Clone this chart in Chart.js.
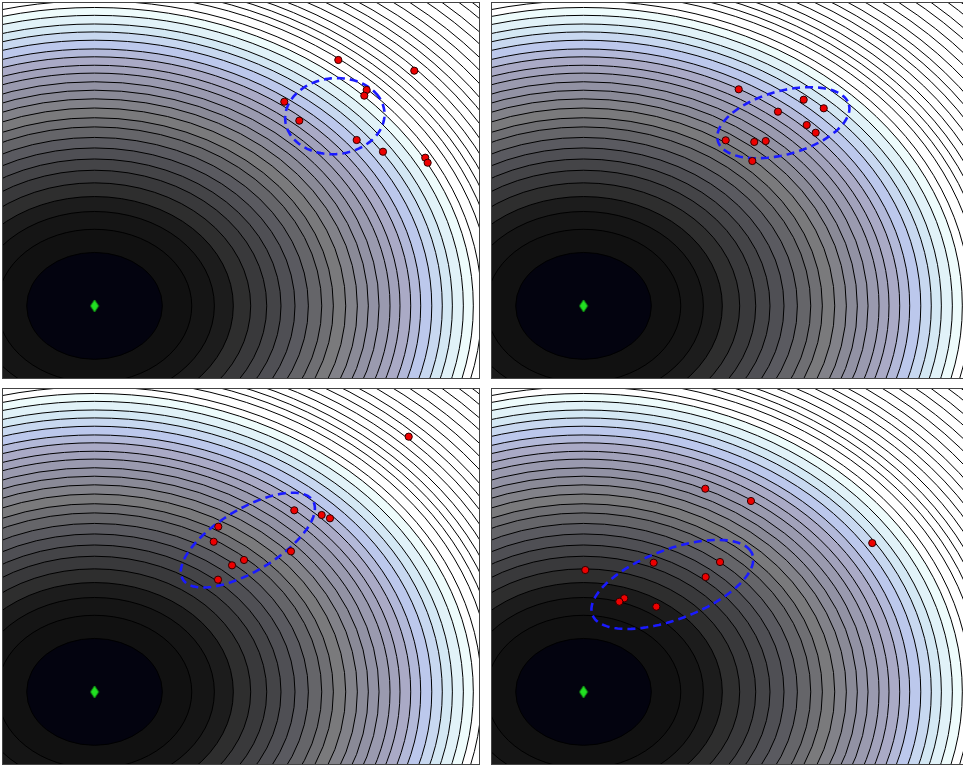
<!DOCTYPE html>
<html>
<head>
<meta charset="utf-8">
<script src="https://cdn.jsdelivr.net/npm/chart.js@4.4.1/dist/chart.umd.min.js"></script>
<style>
  html, body { margin: 0; padding: 0; background: #fff; width: 963px; height: 765px; overflow: hidden; }
  .panel { position: absolute; border: 1px solid #444; width: 476px; height: 375px; }
  .panel canvas { display: block; }
</style>
</head>
<body>
<div class="panel" style="left:2px;top:2px"><canvas id="p0" width="476" height="375"></canvas></div>
<div class="panel" style="left:491px;top:2px"><canvas id="p1" width="476" height="375"></canvas></div>
<div class="panel" style="left:2px;top:388px"><canvas id="p2" width="476" height="375"></canvas></div>
<div class="panel" style="left:491px;top:388px"><canvas id="p3" width="476" height="375"></canvas></div>
<script>
// view and objective
const xRange = [-1, 4.2];
const yRange = [-1, 4.2];
const optimum = [0, 0];

// radii of the contour levels around the optimum
const levelRadii = [0.741, 1.062, 1.309, 1.516, 1.706, 1.881, 2.037, 2.190, 2.336, 2.482,
  2.609, 2.744, 2.871, 2.991, 3.108, 3.228, 3.337, 3.454, 3.563, 3.684,
  3.799, 3.909, 4.029, 4.138, 4.231, 4.343, 4.433, 4.523, 4.611, 4.707,
  4.807, 4.907, 5.006, 5.105, 5.214, 5.327, 5.437, 5.558, 5.667, 5.794, 5.894, 6.0];

// sampled candidates per generation
const samplesA = [[2.663, 3.410], [3.493, 3.261], [2.973, 2.994], [2.947, 2.915], [2.073, 2.831],
  [2.237, 2.568], [2.864, 2.300], [3.151, 2.138], [3.613, 2.055], [3.639, 1.985]];
const samplesB = [[1.695, 3.003], [2.405, 2.859], [2.624, 2.740], [2.124, 2.693], [2.438, 2.508],
  [2.536, 2.401], [1.553, 2.296], [1.865, 2.273], [1.990, 2.286], [1.844, 2.009]];
const samplesC = [[3.432, 3.539], [2.182, 2.518], [2.481, 2.453], [2.572, 2.407], [1.352, 2.291],
  [1.302, 2.082], [2.146, 1.949], [1.633, 1.829], [1.502, 1.755], [1.349, 1.556]];
const samplesD = [[1.330, 2.817], [1.829, 2.647], [3.154, 2.064], [0.019, 1.690], [0.766, 1.791],
  [1.491, 1.801], [1.334, 1.593], [0.445, 1.298], [0.391, 1.250], [0.795, 1.181]];
const allSamples = [samplesA, samplesB, samplesC, samplesD];

// search distribution ellipse per generation: centre, semi-axes, rotation (deg)
const ellipseCenters = [[2.625, 2.631], [2.183, 2.54], [1.675, 2.105], [0.97, 1.49]];
const ellipseAxes = [[0.55, 0.52], [0.762, 0.428], [0.9, 0.398], [0.973, 0.464]];
const ellipseAngles = [30, 22.8, 40.4, 28.4];

// band colours, interpolated between stops by band index
const colorStops = [
  [0, [3, 3, 15]], [1, [17, 17, 17]], [2, [21, 21, 21]], [3, [28, 28, 28]], [4, [46, 46, 46]],
  [8, [90, 90, 96]], [11, [122, 122, 124]], [14, [146, 146, 164]], [17, [170, 170, 198]],
  [19, [188, 200, 236]], [21, [212, 232, 244]], [23, [238, 252, 252]], [24, [255, 255, 255]]
];
function bandColor(k) {
  if (k >= colorStops[colorStops.length - 1][0]) return 'rgb(255,255,255)';
  for (let i = 0; i < colorStops.length - 1; i++) {
    const [k0, c0] = colorStops[i], [k1, c1] = colorStops[i + 1];
    if (k >= k0 && k <= k1) {
      const t = (k - k0) / (k1 - k0);
      const c = c0.map((v, j) => Math.round(v + (c1[j] - v) * t));
      return 'rgb(' + c.join(',') + ')';
    }
  }
  return '#fff';
}

function ellipsePoints(i) {
  const [cx, cy] = ellipseCenters[i], [a, b] = ellipseAxes[i];
  const th = ellipseAngles[i] * Math.PI / 180;
  const pts = [];
  for (let s = 0; s <= 120; s++) {
    const t = s / 120 * 2 * Math.PI;
    const ex = a * Math.cos(t), ey = b * Math.sin(t);
    pts.push({x: cx + ex * Math.cos(th) - ey * Math.sin(th), y: cy + ex * Math.sin(th) + ey * Math.cos(th)});
  }
  return pts;
}

const contourPlugin = {
  id: 'contours',
  beforeDatasetsDraw(chart) {
    const {ctx, chartArea: area, scales: {x, y}} = chart;
    const cx = x.getPixelForValue(optimum[0]), cy = y.getPixelForValue(optimum[1]);
    ctx.save();
    ctx.beginPath();
    ctx.rect(area.left, area.top, area.right - area.left, area.bottom - area.top);
    ctx.clip();
    ctx.fillStyle = '#fff';
    ctx.fillRect(area.left, area.top, area.right - area.left, area.bottom - area.top);
    for (let k = levelRadii.length - 1; k >= 0; k--) {
      const r = levelRadii[k];
      const rx = x.getPixelForValue(optimum[0] + r) - cx;
      const ry = cy - y.getPixelForValue(optimum[1] + r);
      ctx.beginPath();
      ctx.ellipse(cx, cy, rx, ry, 0, 0, 2 * Math.PI);
      ctx.fillStyle = bandColor(k);
      ctx.fill();
      ctx.lineWidth = 1;
      ctx.strokeStyle = '#000';
      ctx.stroke();
    }
    ctx.restore();
  }
};

// thin diamond marker
const diamond = document.createElement('canvas');
diamond.width = 10; diamond.height = 14;
(function () {
  const c = diamond.getContext('2d');
  c.beginPath();
  c.moveTo(5, 1); c.lineTo(9, 7); c.lineTo(5, 13); c.lineTo(1, 7); c.closePath();
  c.fillStyle = '#22e022'; c.fill();
  c.lineWidth = 0.8; c.strokeStyle = '#14a814'; c.stroke();
})();

for (let i = 0; i < 4; i++) {
  new Chart(document.getElementById('p' + i), {
    type: 'scatter',
    data: {
      datasets: [
        {
          data: allSamples[i].map(p => ({x: p[0], y: p[1]})),
          pointRadius: 3.6,
          pointBackgroundColor: '#ee0000',
          pointBorderColor: '#300000',
          pointBorderWidth: 1
        },
        {
          data: ellipsePoints(i),
          showLine: true,
          pointRadius: 0,
          borderColor: '#1a1aff',
          borderWidth: 2.6,
          borderDash: [8, 5],
          fill: false
        },
        {
          data: [{x: optimum[0], y: optimum[1]}],
          pointStyle: diamond,
          pointRadius: 6
        }
      ]
    },
    options: {
      responsive: false,
      animation: false,
      layout: {padding: 0, autoPadding: false},
      plugins: {legend: {display: false}, tooltip: {enabled: false}},
      scales: {
        x: {type: 'linear', min: xRange[0], max: xRange[1], display: false},
        y: {type: 'linear', min: yRange[0], max: yRange[1], display: false}
      }
    },
    plugins: [contourPlugin]
  });
}
</script>
</body>
</html>
